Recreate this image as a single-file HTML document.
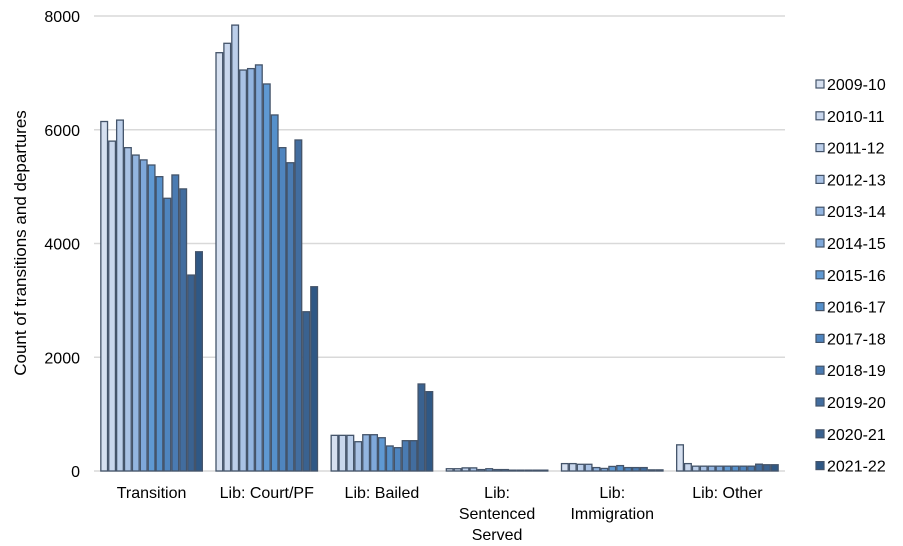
<!DOCTYPE html>
<html><head><meta charset="utf-8"><style>
body{margin:0;background:#fff;}
svg{display:block;font-family:"Liberation Sans",Arial,sans-serif;}
</style></head><body>
<svg id="chart" width="903" height="546" viewBox="0 0 903 546">
<g id="grid"></g><g id="bars"></g><g id="axes"></g><g id="legend"></g>
<text transform="translate(26,243) rotate(-90)" text-anchor="middle" font-size="17" fill="#000">Count of transitions and departures</text>
</svg>
<script>
const categories=[["Transition"],["Lib: Court/PF"],["Lib: Bailed"],["Lib:","Sentenced","Served"],["Lib:","Immigration"],["Lib: Other"]];
const years=["2009-10","2010-11","2011-12","2012-13","2013-14","2014-15","2015-16","2016-17","2017-18","2018-19","2019-20","2020-21","2021-22"];
const transition=[6145,5800,6170,5685,5555,5470,5380,5175,4795,5205,4960,3445,3855];
const courtPF=[7355,7520,7840,7050,7075,7140,6805,6260,5685,5420,5820,2800,3240];
const bailed=[627,627,627,515,638,638,585,440,410,533,533,1530,1395];
const sentenced=[40,40,55,55,25,40,25,25,15,15,15,15,15];
const immigration=[130,130,118,118,60,45,80,95,60,60,60,20,20];
const other=[460,130,85,85,85,85,85,85,85,85,120,110,110];
const yTicks=[0,2000,4000,6000,8000];
const series=[transition,courtPF,bailed,sentenced,immigration,other];
const colors=["#d6e0f0","#c9d7ed","#bccfea","#a9c2e5","#93b5e0","#7fa8da","#5f99d3","#5590cb","#4f85bf","#4a7bb2","#426d9f","#3a6290","#2f5885"];
const NS="http://www.w3.org/2000/svg";
const L=94,R=785,T=16,B=471,yMax=8000;
const y=v=>B-(v/yMax)*(B-T);
const catW=(R-L)/categories.length;
const barW=7.9;
const catX=i=>L+catW*i+catW/2;
function mk(tag,attrs,parent){const e=document.createElementNS(NS,tag);for(const k in attrs)e.setAttribute(k,attrs[k]);parent.appendChild(e);return e;}
const grid=document.getElementById('grid'),bars=document.getElementById('bars'),axes=document.getElementById('axes'),legend=document.getElementById('legend');
yTicks.forEach(t=>{
 const ln=mk('line',{x1:L,x2:R,y1:y(t),y2:y(t),stroke:'#d9d9d9','stroke-width':1.5},grid);
 
 
 const tx=mk('text',{x:80,y:y(t)+6,'text-anchor':'end','font-size':16,fill:'#000'},axes);
 tx.textContent=t;
 
 
});
series.forEach((s,ci)=>{
 const x0=catX(ci)-barW*years.length/2;
 s.forEach((v,yi)=>{
  const r=mk('rect',{x:x0+yi*barW+0.6,y:y(v),width:barW-1.2,height:B-y(v),fill:colors[yi],stroke:'#44546a','stroke-width':1.3},bars);
  
  
 });
 categories[ci].forEach((line,li)=>{
  const tx=mk('text',{x:catX(ci),y:498+li*21,'text-anchor':'middle','font-size':16,fill:'#000'},axes);
  tx.textContent=line;
  
  
 });
});
years.forEach((yr,i)=>{
 const cy=84+i*31.8;
 const g=mk('g',{},legend);
 
 
 mk('rect',{x:816,y:cy-4,width:8,height:8,fill:colors[i],stroke:'#44546a','stroke-width':1.2},g);
 const tx=mk('text',{x:827,y:cy+6,'font-size':16,fill:'#000'},g);
 tx.textContent=yr;
});
</script>
</body></html>
